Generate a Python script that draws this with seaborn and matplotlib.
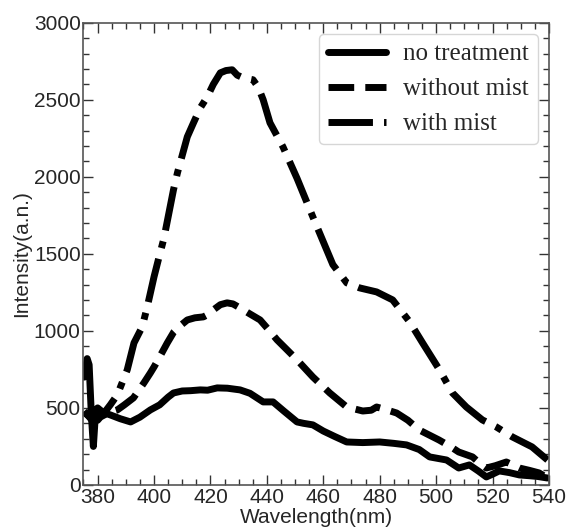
import numpy as np
import pandas as pd
import seaborn as sns
import matplotlib
matplotlib.use("Agg")
import matplotlib.pyplot as plt
from matplotlib.ticker import MultipleLocator

# ---- data ----
x_none = [375.3, 376.3, 377.0, 377.8, 378.5, 379.3, 380, 382, 384.6, 388, 391.7, 395, 398.7, 402, 405,
          406.9, 410, 413, 416.4, 419, 422.4, 426, 430.5, 434, 438.7, 442.2, 446, 450.7, 453, 456.3,
          460, 464, 468.3, 474, 480, 485, 489.5, 494, 497.7, 503.7, 508, 511.8, 515, 517.8, 520,
          522.4, 526, 529.5, 533, 536, 539.5]
y_none = [700, 820, 780, 450, 250, 480, 500, 470, 454, 430, 409, 440, 487, 520, 570,
          597, 610, 612, 617, 615, 630, 628, 617, 595, 539, 539, 480, 409, 400, 390,
          350, 315, 279, 275, 279, 270, 260, 230, 182, 162, 110, 130, 90, 52, 70,
          91, 80, 65, 60, 55, 45]

x_nomist = [375.3, 378, 380, 381, 384, 387, 389.5, 392.7, 396.4, 398.7, 400, 402, 404.7, 407, 408.8,
            411.8, 414.5, 417.5, 419.5, 421, 423.5, 425.9, 428, 430.5, 434, 437.6, 440.5, 443.6, 447,
            450.7, 456.3, 462.3, 468.3, 474, 477, 478.9, 482, 486, 490, 494, 501, 505, 508, 512.9,
            515.5, 517.8, 521, 524.9, 529.5, 533, 536.5, 539.5]
y_nomist = [470, 430, 420, 441, 470, 487, 520, 565, 662, 727, 766, 831, 922, 993, 1026,
            1071, 1085, 1091, 1110, 1136, 1170, 1182, 1175, 1149, 1110, 1071, 1010, 942, 880,
            812, 701, 597, 506, 480, 485, 506, 490, 467, 420, 357, 292, 250, 214, 182,
            140, 110, 125, 149, 110, 95, 78, 45]

x_mist = [375.3, 378, 380, 382, 384.5, 387, 390.5, 392.9, 395.8, 397.6, 400, 401.7, 403.5, 406.9,
          408.3, 411.8, 414, 416.4, 418.9, 421, 423.5, 425.5, 427.7, 429.5, 431.6, 435.1, 437,
          438.7, 441.1, 445.7, 450.7, 456.3, 463.4, 468.3, 472.9, 478.9, 484.6, 490.6, 495.2,
          501.2, 505.8, 510.7, 516.4, 521.3, 527, 534, 539.5]
y_mist = [480, 420, 430, 460, 520, 585, 747, 922, 1026, 1156, 1351, 1474, 1600, 1916,
          2026, 2260, 2351, 2448, 2520, 2600, 2675, 2690, 2695, 2660, 2643, 2630, 2580,
          2500, 2351, 2195, 1990, 1740, 1430, 1312, 1279, 1253, 1201, 1059, 922,
          747, 597, 506, 422, 377, 312, 247, 162]

labels = ["no treatment", "without mist", "with mist"]
x_ticks = [380, 400, 420, 440, 460, 480, 500, 520, 540]
y_ticks = [0, 500, 1000, 1500, 2000, 2500, 3000]

sns.set_style("ticks")
plt.rcParams["font.family"] = ["Liberation Sans", "DejaVu Sans"]

fig = plt.figure(figsize=(5.68, 5.30), dpi=100)
ax = fig.add_axes([0.147, 0.085, 0.8195, 0.872])

series = [(x_none, y_none, "-"), (x_nomist, y_nomist, "--"), (x_mist, y_mist, "-.")]
for (xs, ys, ls), lab in zip(series, labels):
    df = pd.DataFrame({"x": xs, "y": ys})
    sns.lineplot(data=df, x="x", y="y", ax=ax, color="black", linewidth=5,
                 linestyle=ls, label=lab, estimator=None, sort=False)

ax.set_xlim(375, 540)
ax.set_ylim(0, 3000)
ax.set_xticks(x_ticks)
ax.set_yticks(y_ticks)
ax.xaxis.set_minor_locator(MultipleLocator(5))
ax.yaxis.set_minor_locator(MultipleLocator(100))
ax.tick_params(which="both", direction="in", top=True, right=True, labelsize=15,
               color="#333333", pad=2)
ax.tick_params(which="major", length=7, width=1)
ax.tick_params(which="minor", length=4, width=1)
for sp in ax.spines.values():
    sp.set_color("#555555")
    sp.set_linewidth(1.2)

ax.set_xlabel("Wavelength(nm)", fontsize=15, labelpad=1)
ax.set_ylabel("Intensity(a.n.)", fontsize=15, labelpad=2)

leg = ax.legend(loc="upper right", prop={"family": "Liberation Serif", "size": 18},
                handlelength=2.3, handletextpad=0.7, frameon=True, fancybox=True,
                borderaxespad=0.45, borderpad=0.35, labelspacing=0.5)
leg.get_frame().set_edgecolor("#cccccc")
leg.get_frame().set_linewidth(1.0)

fig.savefig("out.png", dpi=100)
